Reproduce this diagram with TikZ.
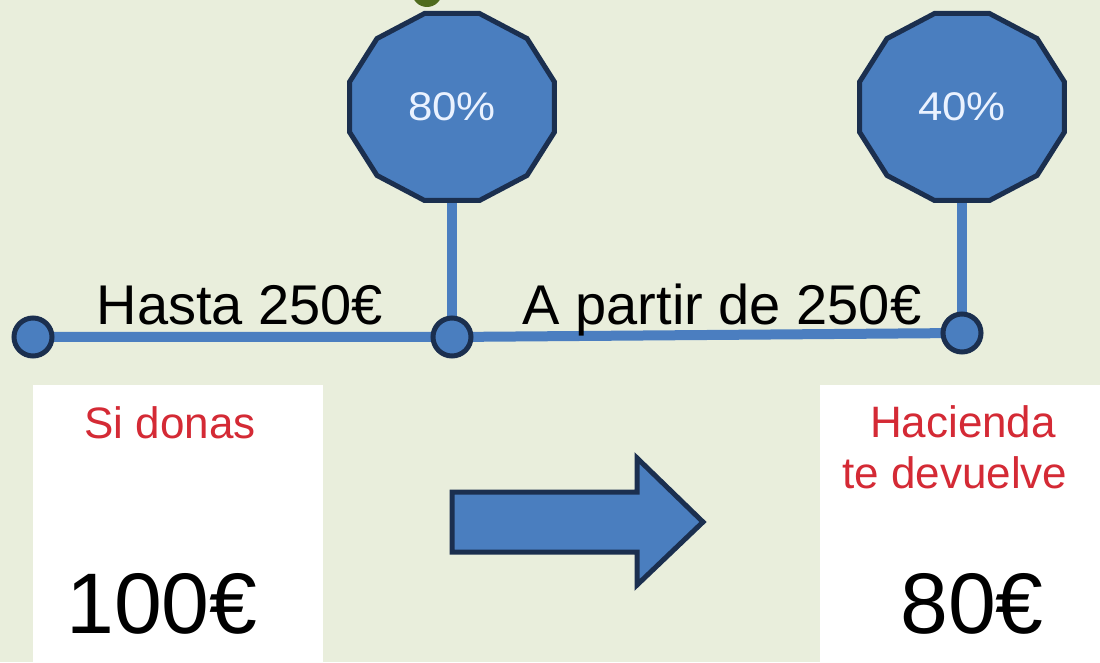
\documentclass[tikz,border=0pt]{standalone}
\usepackage{fontspec}
\setmainfont{Liberation Sans}
\usetikzlibrary{shapes.geometric}
\definecolor{bg}{HTML}{E9EEDC}
\definecolor{fillblue}{HTML}{4A7EBF}
\definecolor{navy}{HTML}{1B2F4F}
\definecolor{lineblue}{HTML}{4B7EC0}
\definecolor{redtext}{HTML}{D42A35}
\definecolor{pcttext}{HTML}{EAF2FF}
\definecolor{olive}{HTML}{4F6B1E}
\tikzset{
  dodeca/.style={regular polygon, regular polygon sides=12, minimum size=193.6pt,
    inner sep=0pt, fill=fillblue, draw=navy, line width=5pt, transform shape, xscale=1.096,
    text=pcttext, font=\fontsize{40}{44}\selectfont},
  dot/.style={circle, minimum size=38pt, inner sep=0pt, fill=fillblue, draw=navy, line width=5pt},
  tline/.style={draw=lineblue, line width=10pt},
  lbl/.style={anchor=base, inner sep=0pt, text=black, font=\fontsize{56}{60}\selectfont},
  redlbl/.style={anchor=base, inner sep=0pt, text=redtext, font=\fontsize{44}{51}\selectfont},
  bignum/.style={anchor=base, inner sep=0pt, text=black, font=\fontsize{86}{90}\selectfont},
  whitebox/.style={fill=white, draw=none},
  bigarrow/.style={fill=fillblue, draw=navy, line width=5pt, line join=miter}
}
\begin{document}
\begin{tikzpicture}[x=1pt,y=1pt]
\useasboundingbox (0,0) rectangle (1100,662);
\clip (0,0) rectangle (1100,662);
\fill[bg] (0,0) rectangle (1100,662);
% green circle at top (cut off)
\fill[olive] (427,670) circle (15);
% white boxes
\fill[whitebox] (33,-5) rectangle (323,277);
\fill[whitebox] (820,-5) rectangle (1105,277);
% timeline coordinates
\coordinate (c0) at (33,325);
\coordinate (c1) at (452,325);
\coordinate (c2) at (962,329);
\coordinate (p1c) at (452,555);
\coordinate (p2c) at (962,555);
% connectors
\path[tline] (c0) -- (c1) -- (c2);
\path[tline] (p1c) -- (c1);
\path[tline] (p2c) -- (c2);
% dots and polygons
\node[dot] (d0) at (c0) {};
\node[dot] (d1) at (c1) {};
\node[dot] (d2) at (c2) {};
\node[dodeca] (p1) at (p1c) {80\%};
\node[dodeca] (p2) at (p2c) {40\%};
% labels
\node[lbl] (hasta) at (240,337) {Hasta 250€};
\node[lbl] (apartir) at (722,337) {A partir de 250€};
\node[redlbl] (sidonas) at (170,224) {Si donas};
\node[bignum] (cien) at (162,29) {100€};
\node[redlbl] (hacienda) at (963,225) {Hacienda};
\node[redlbl] (devuelve) at (955,174) {te devuelve};
\node[bignum] (ochenta) at (972,29) {80€};
% block arrow
\draw[bigarrow] (452,170) -- (637,170) -- (637,204) -- (703,140) -- (637,77) -- (637,110) -- (452,110) -- cycle;
\end{tikzpicture}
\end{document}
